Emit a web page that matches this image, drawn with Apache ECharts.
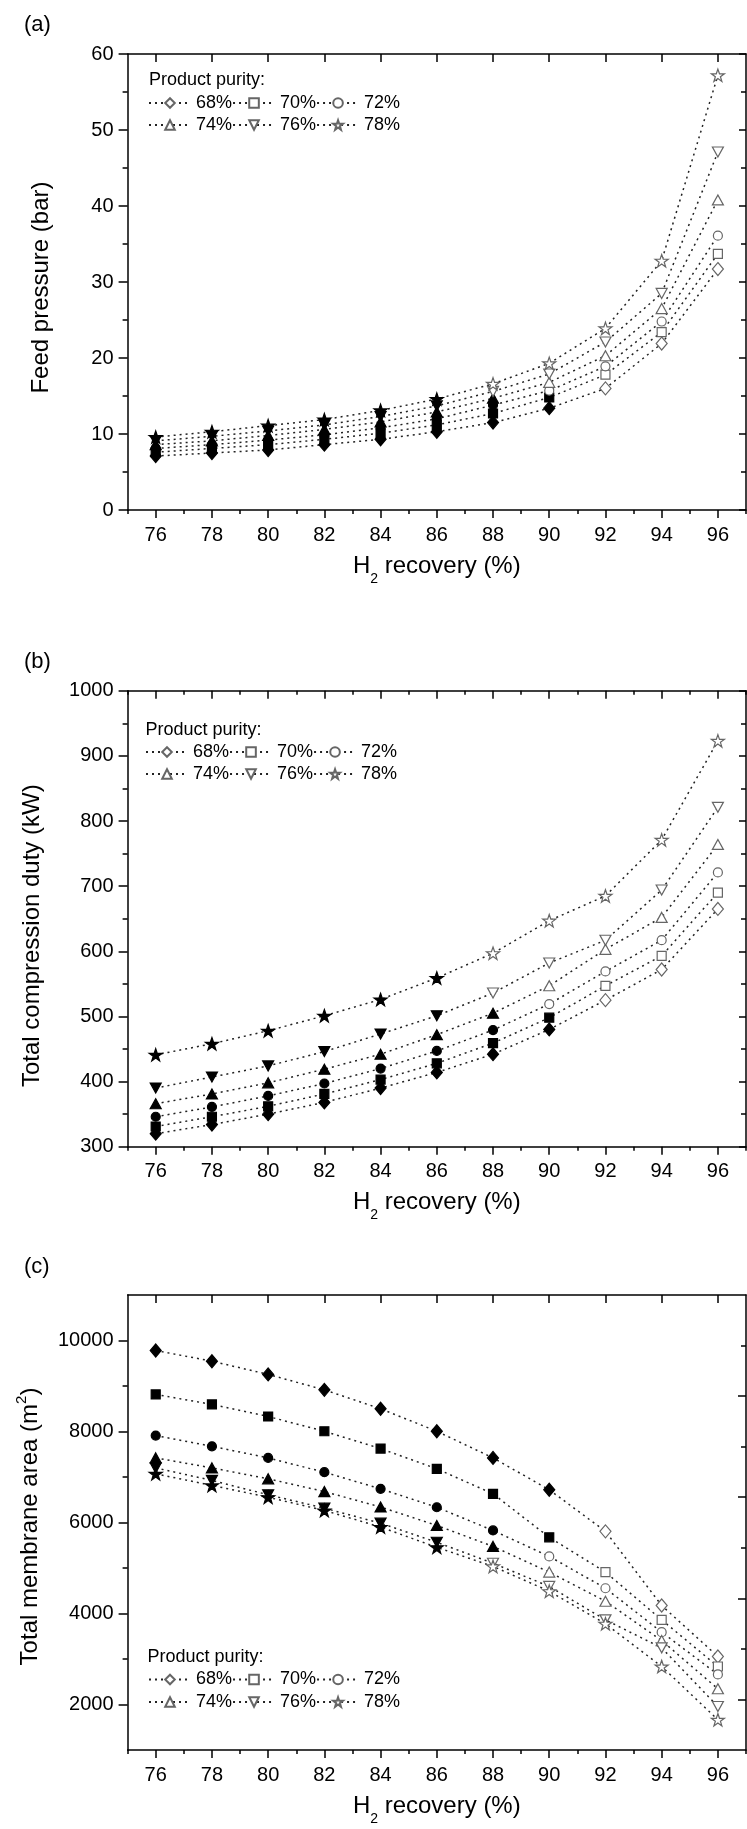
<!DOCTYPE html>
<html><head><meta charset="utf-8">
<script src="https://cdn.jsdelivr.net/npm/echarts@6/dist/echarts.min.js"></script>
<style>html,body{margin:0;padding:0;background:#fff}#c{width:747px;height:1829px}</style>
</head><body><div id="c"></div>
<script>
// ---------------- data ----------------
const recovery = [76, 78, 80, 82, 84, 86, 88, 90, 92, 94, 96];
const purities = ['68%', '70%', '72%', '74%', '76%', '78%'];
const xTickLabels = [76, 78, 80, 82, 84, 86, 88, 90, 92, 94, 96];
const yTickLabelsC = [2000, 4000, 6000, 8000, 10000];
// number of leading (filled) points per purity series
const filledCount = [8, 8, 7, 7, 6, 6];

// (a) Feed pressure (bar)
const pressure68 = [7.1, 7.5, 7.9, 8.6, 9.3, 10.3, 11.5, 13.4, 16.0, 21.9, 31.7];
const pressure70 = [7.6, 8.1, 8.6, 9.3, 10.1, 11.2, 12.7, 14.8, 17.8, 23.4, 33.7];
const pressure72 = [8.1, 8.6, 9.2, 9.9, 10.8, 12.0, 13.8, 15.7, 18.9, 24.8, 36.1];
const pressure74 = [8.6, 9.1, 9.8, 10.6, 11.6, 12.9, 14.7, 16.8, 20.3, 26.5, 40.8];
const pressure76 = [9.1, 9.7, 10.4, 11.2, 12.3, 13.7, 15.6, 17.9, 22.1, 28.5, 47.1];
const pressure78 = [9.6, 10.3, 11.1, 11.9, 13.1, 14.6, 16.6, 19.3, 23.9, 32.8, 57.2];

// (b) Total compression duty (kW)
const duty68 = [320, 334, 350, 368, 390, 414, 442, 480, 525, 572, 665];
const duty70 = [331, 346, 362, 381, 403, 428, 459, 498, 547, 593, 690];
const duty72 = [346, 361, 378, 397, 420, 447, 479, 519, 569, 617, 721];
const duty74 = [366, 381, 398, 419, 442, 472, 505, 547, 603, 652, 764];
const duty76 = [390, 407, 424, 446, 473, 501, 536, 582, 617, 694, 821];
const duty78 = [441, 458, 478, 501, 526, 559, 597, 647, 685, 771, 923];

// (c) Total membrane area (m2)
const area68 = [9780, 9545, 9255, 8915, 8500, 8005, 7420, 6720, 5805, 4175, 3055];
const area70 = [8815, 8595, 8330, 8005, 7625, 7180, 6630, 5675, 4910, 3860, 2835];
const area72 = [7910, 7675, 7420, 7105, 6740, 6335, 5825, 5255, 4555, 3590, 2660];
const area74 = [7420, 7200, 6960, 6680, 6340, 5935, 5475, 4910, 4270, 3405, 2345];
const area76 = [7200, 6925, 6610, 6315, 5985, 5565, 5105, 4595, 3860, 3245, 1955];
const area78 = [7070, 6815, 6555, 6265, 5900, 5455, 5035, 4490, 3775, 2835, 1665];

// ---------------- styling / layout ----------------
const F = "'Liberation Sans', Arial, Helvetica, sans-serif";
const BLACK = '#000';
const axisLine = { show: true, onZero: false, lineStyle: { color: BLACK, width: 1.5 } };
const tickLine = { color: BLACK, width: 1.5 };
const starPath = 'path://M50,0 L61.8,35.1 L98.1,35.1 L68.8,56.7 L79.4,91.9 L50,70 L20.6,91.9 L31.2,56.7 L1.9,35.1 L38.2,35.1 Z';
const symbols = ['diamond', 'rect', 'circle', 'triangle', 'triangle', starPath];
const symbolSizes = [[11, 13], 9, 9, [11, 10], [11, 10], 13];
const symbolRotates = [0, 0, 0, 0, 180, 0];

const xMinor = xTickLabels.map(v => v - 1).concat([xTickLabels[xTickLabels.length - 1] + 1]);
const yMinorC = yTickLabelsC.slice(1).map((v, i) => (v + yTickLabelsC[i]) / 2);
const plainNum = v => String(v);

const nameRich = {
  n: { fontSize: 24, fontFamily: F, color: BLACK, lineHeight: 24 },
  sub: { fontSize: 14, fontFamily: F, color: BLACK, lineHeight: 14, padding: [26, 0, 0, 0] },
  sup: { fontSize: 15, fontFamily: F, color: BLACK, lineHeight: 15, padding: [0, 0, 18, 0] }
};

const panels = [
  { tag: '(a)', top: 54, height: 456, tagTop: 14, yMin: 0, yMax: 60, yInt: 10,
    yName: '{n|Feed pressure (bar)}', yGap: 74, yShift: 11,
    data: [pressure68, pressure70, pressure72, pressure74, pressure76, pressure78],
    legTitleTop: 71, legTitleLeft: 149, legLeft: 148, legTops: [94, 116] },
  { tag: '(b)', top: 690.7, height: 456, tagTop: 651, yMin: 300, yMax: 1000, yInt: 100,
    yName: '{n|Total compression duty (kW)}', yGap: 83, yShift: 34,
    data: [duty68, duty70, duty72, duty74, duty76, duty78],
    legTitleTop: 721, legTitleLeft: 145.5, legLeft: 145, legTops: [743, 765] },
  { tag: '(c)', top: 1295, height: 455, tagTop: 1256, yMin: 1000, yMax: 11000, custom: true,
    yName: '{n|Total membrane area (m}{sup|2}{n|)}', yGap: 83, yShift: 8,
    data: [area68, area70, area72, area74, area76, area78],
    legTitleTop: 1648, legTitleLeft: 147.5, legLeft: 148, legTops: [1670.5, 1693] }
];

const grid = [], xAxis = [], yAxis = [], series = [], title = [], legend = [];

panels.forEach((p, gi) => {
  grid.push({ left: 127.6, right: 1, top: p.top, height: p.height, containLabel: false, outerBoundsMode: 'none' });

  const xMain = xAxis.length;
  xAxis.push({
    gridIndex: gi, type: 'value', min: 75, max: 97, position: 'bottom',
    axisLine, splitLine: { show: false },
    axisTick: { show: true, inside: false, length: 8, customValues: xTickLabels, lineStyle: tickLine },
    axisLabel: { show: true, customValues: xTickLabels, fontSize: 20, fontFamily: F, color: BLACK, margin: 15, formatter: plainNum },
    name: '{n|H}{sub|2}{n| recovery (%)}', nameLocation: 'middle', nameGap: 42,
    nameTextStyle: { fontSize: 24, fontFamily: F, color: BLACK, rich: nameRich }
  });
  xAxis.push({
    gridIndex: gi, type: 'value', min: 75, max: 97, position: 'bottom',
    axisLine: { show: false }, splitLine: { show: false }, axisLabel: { show: false },
    axisTick: { show: true, inside: false, length: 4, customValues: xMinor, lineStyle: tickLine }
  });
  xAxis.push({
    gridIndex: gi, type: 'value', min: 75, max: 97, position: 'top',
    axisLine, splitLine: { show: false }, axisLabel: { show: false },
    axisTick: { show: true, inside: true, length: 8, customValues: xTickLabels, lineStyle: tickLine }
  });
  xAxis.push({
    gridIndex: gi, type: 'value', min: 75, max: 97, position: 'top',
    axisLine: { show: false }, splitLine: { show: false }, axisLabel: { show: false },
    axisTick: { show: true, inside: true, length: 4, customValues: xMinor, lineStyle: tickLine }
  });

  const yMain = yAxis.length;
  const yNameOpts = {
    name: p.yName, nameLocation: 'middle', nameGap: p.yGap,
    nameTextStyle: { fontSize: 24, fontFamily: F, color: BLACK, rich: nameRich, padding: [0, p.yShift, 0, 0] }
  };
  if (!p.custom) {
    yAxis.push(Object.assign({
      gridIndex: gi, type: 'value', min: p.yMin, max: p.yMax, interval: p.yInt, position: 'left',
      axisLine, splitLine: { show: false },
      axisTick: { show: true, inside: false, length: 9, lineStyle: tickLine },
      minorTick: { show: true, splitNumber: 2, length: 5, lineStyle: tickLine },
      axisLabel: { fontSize: 20, fontFamily: F, color: BLACK, margin: 14, formatter: plainNum }
    }, yNameOpts));
    yAxis.push({
      gridIndex: gi, type: 'value', min: p.yMin, max: p.yMax, interval: p.yInt, position: 'right',
      axisLine, splitLine: { show: false }, axisLabel: { show: false },
      axisTick: { show: true, inside: true, length: 7, lineStyle: tickLine },
      minorTick: { show: true, splitNumber: 2, length: 5, lineStyle: tickLine }
    });
  } else {
    yAxis.push(Object.assign({
      gridIndex: gi, type: 'value', min: p.yMin, max: p.yMax, position: 'left',
      axisLine, splitLine: { show: false },
      axisTick: { show: true, inside: false, length: 9, customValues: yTickLabelsC, lineStyle: tickLine },
      axisLabel: { customValues: yTickLabelsC, fontSize: 20, fontFamily: F, color: BLACK, margin: 14, formatter: plainNum }
    }, yNameOpts));
    yAxis.push({
      gridIndex: gi, type: 'value', min: p.yMin, max: p.yMax, position: 'left',
      axisLine: { show: false }, splitLine: { show: false }, axisLabel: { show: false },
      axisTick: { show: true, inside: false, length: 5, customValues: yMinorC, lineStyle: tickLine }
    });
    // right frame axis with its own (independent) 9-division tick layout
    yAxis.push({
      gridIndex: gi, type: 'value', min: 0, max: 9, position: 'right',
      axisLine, splitLine: { show: false }, axisLabel: { show: false },
      axisTick: { show: true, inside: true, length: 8, customValues: [1, 3, 5, 7], lineStyle: tickLine }
    });
    yAxis.push({
      gridIndex: gi, type: 'value', min: 0, max: 9, position: 'right',
      axisLine: { show: false }, splitLine: { show: false }, axisLabel: { show: false },
      axisTick: { show: true, inside: true, length: 5, customValues: [2, 4, 6, 8], lineStyle: tickLine }
    });
  }

  p.data.forEach((vals, si) => {
    series.push({
      type: 'line', name: purities[si], xAxisIndex: xMain, yAxisIndex: yMain,
      symbol: symbols[si], symbolSize: symbolSizes[si], symbolRotate: symbolRotates[si], symbolKeepAspect: true,
      showAllSymbol: true, smooth: false,
      lineStyle: { color: '#222', width: 1.5, type: [2, 4] },
      itemStyle: { color: '#fff', borderColor: '#666', borderWidth: 1.2 },
      emphasis: { disabled: true },
      data: vals.map((v, i) => i < filledCount[si]
        ? { value: [recovery[i], v], itemStyle: { color: BLACK, borderColor: BLACK } }
        : { value: [recovery[i], v] })
    });
  });

  title.push({ text: p.tag, left: 24, top: p.tagTop, padding: 0,
    textStyle: { fontSize: 22, fontWeight: 'normal', fontFamily: F, color: BLACK } });
  title.push({ text: 'Product purity:', left: p.legTitleLeft, top: p.legTitleTop, padding: 0,
    textStyle: { fontSize: 18, fontWeight: 'normal', fontFamily: F, color: BLACK } });
  [purities.slice(0, 3), purities.slice(3)].forEach((names, ri) => {
    legend.push({
      data: names, left: p.legLeft, top: p.legTops[ri], orient: 'horizontal', padding: 0,
      itemWidth: 42, itemHeight: 12, itemGap: 0, selectedMode: false,
      textStyle: { fontSize: 18, fontFamily: F, color: BLACK }
    });
  });
});

const chart = echarts.init(document.getElementById('c'), null, { renderer: 'canvas' });
chart.setOption({ animation: false, backgroundColor: '#fff', title, legend, grid, xAxis, yAxis, series });
</script></body></html>
